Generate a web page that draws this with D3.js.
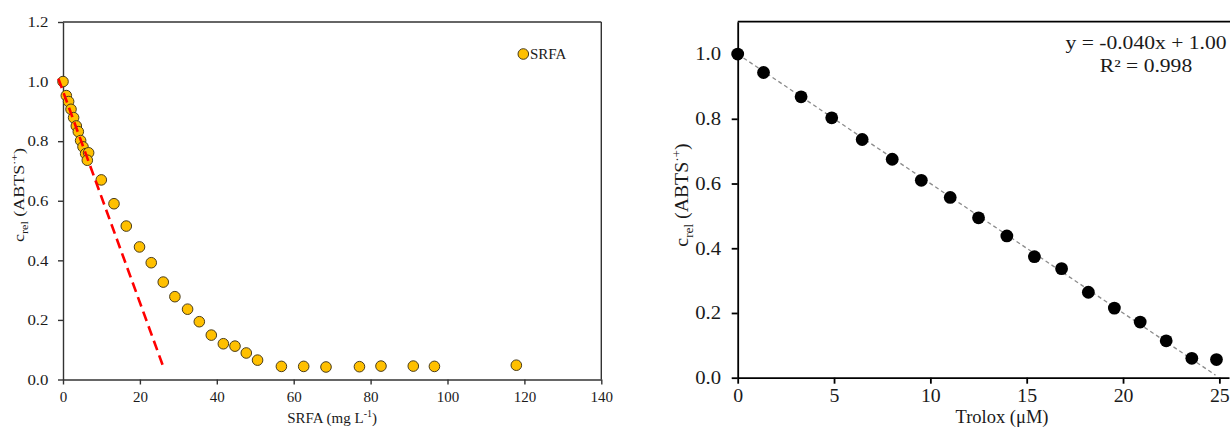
<!DOCTYPE html>
<html><head><meta charset="utf-8">
<script src="https://cdn.jsdelivr.net/npm/d3@7"></script>
<style>
html,body{margin:0;padding:0;background:#fff;}
svg{display:block;}
svg text{font-family:"Liberation Serif","Times New Roman",serif !important;}
</style></head>
<body>
<svg id="chart" width="1230" height="427"></svg>
<script>
// ---- Left panel data (SRFA) ----
const srfaX = [0, 0.86, 1.46, 2.08, 2.76, 3.46, 3.98, 4.58, 5.2, 5.88, 6.66, 6.32, 9.96, 13.26, 16.46, 19.9, 22.95, 26.07, 29.1, 32.4, 35.45, 38.57, 41.7, 44.73, 47.67, 50.6, 56.8, 62.6, 68.4, 77.1, 82.7, 91.1, 96.6, 117.9];
const srfaY = [1.0, 0.953, 0.933, 0.907, 0.879, 0.851, 0.832, 0.802, 0.781, 0.758, 0.761, 0.736, 0.670, 0.590, 0.515, 0.445, 0.392, 0.327, 0.278, 0.236, 0.194, 0.149, 0.120, 0.112, 0.089, 0.065, 0.044, 0.044, 0.042, 0.043, 0.045, 0.045, 0.044, 0.048];
const initSlopeX = [-1.2, 26.3];
const initSlopeY = [1.01, 0.035];
const leftXTicks = [0, 20, 40, 60, 80, 100, 120, 140];
const leftYTicks = [0, 0.2, 0.4, 0.6, 0.8, 1.0, 1.2];
const leftLegend = ["SRFA"];

// ---- Right panel data (Trolox) ----
const troloxX = [0, 1.34, 3.29, 4.88, 6.46, 8.02, 9.53, 11.03, 12.5, 13.97, 15.4, 16.81, 18.2, 19.55, 20.89, 22.24, 23.57, 24.85];
const troloxY = [1.0, 0.943, 0.868, 0.803, 0.736, 0.675, 0.610, 0.557, 0.494, 0.438, 0.374, 0.337, 0.264, 0.215, 0.172, 0.114, 0.060, 0.056];
const fitSlope = -0.040, fitIntercept = 1.00, fitXRange = [0, 24.8];
const fitLabels = ["y = -0.040x + 1.00", "R\u00B2 = 0.998"];
const rightXTicks = [0, 5, 10, 15, 20, 25];
const rightYTicks = [0, 0.2, 0.4, 0.6, 0.8, 1.0];

const svg = d3.select("#chart");

function styleAxis(g, color, width, fontSize) {
  g.attr("font-family", null).attr("font-size", null);
  g.select(".domain").attr("stroke", color).attr("stroke-width", width);
  g.selectAll(".tick line").attr("stroke", color).attr("stroke-width", width);
  g.selectAll(".tick text").attr("fill", "#1a1a1a").attr("font-size", fontSize);
}

// ================= LEFT PANEL =================
const xL = d3.scaleLinear().domain([0, 140]).range([63, 601.3]);
const yL = d3.scaleLinear().domain([0, 1.2]).range([379.5, 22]);

const gL = svg.append("g");
gL.append("line").attr("x1", xL(0)).attr("x2", xL(140)).attr("y1", yL(1.2)).attr("y2", yL(1.2))
  .attr("stroke", "#333").attr("stroke-width", 1.4);
gL.append("line").attr("x1", xL(140)).attr("x2", xL(140)).attr("y1", yL(0)).attr("y2", yL(1.2))
  .attr("stroke", "#333").attr("stroke-width", 1.4);

const axLX = gL.append("g").attr("transform", `translate(0,${yL(0)})`)
  .call(d3.axisBottom(xL).tickValues(leftXTicks).tickSize(5).tickSizeOuter(0).tickPadding(7).tickFormat(d3.format("d")));
styleAxis(axLX, "#333", 1.4, 15);
const axLY = gL.append("g").attr("transform", `translate(${xL(0)},0)`)
  .call(d3.axisLeft(yL).tickValues(leftYTicks).tickSize(5).tickSizeOuter(0).tickPadding(8).tickFormat(d3.format(".1f")));
styleAxis(axLY, "#333", 1.4, 15);
axLY.selectAll(".tick text").attr("transform", "scale(1.12,1)");

// points
gL.selectAll("circle.srfa").data(srfaX).enter().append("circle").attr("class", "srfa")
  .attr("cx", (d) => xL(d)).attr("cy", (d, i) => yL(srfaY[i])).attr("r", 5.3)
  .attr("fill", "#FFC000").attr("stroke", "#4a3d1c").attr("stroke-width", 1);

// red initial-slope dashed line (drawn over the points)
const lineL = d3.line().x((d, i) => xL(initSlopeX[i])).y((d, i) => yL(initSlopeY[i]));
gL.append("path").datum(initSlopeX).attr("d", lineL).attr("fill", "none")
  .attr("stroke", "#ff0000").attr("stroke-width", 2.6).attr("stroke-dasharray", "10,5.5");

// legend
gL.append("circle").attr("cx", 523.3).attr("cy", 54).attr("r", 5.3)
  .attr("fill", "#FFC000").attr("stroke", "#4a3d1c").attr("stroke-width", 1);
gL.append("text").attr("x", 530).attr("y", 59).attr("font-size", 15).attr("fill", "#1a1a1a").text(leftLegend[0]);

// axis titles
const xtL = gL.append("text").attr("x", (xL(0) + xL(140)) / 2).attr("y", 423).attr("text-anchor", "middle")
  .attr("font-size", 15).attr("fill", "#1a1a1a");
xtL.append("tspan").text("SRFA (mg L");
xtL.append("tspan").attr("font-size", 10).attr("dy", -6).text("-1");
xtL.append("tspan").attr("dy", 6).text(")");

const ytL = gL.append("text").attr("transform", "translate(24,195) rotate(-90) scale(1.2,1)")
  .attr("text-anchor", "middle").attr("font-size", 15).attr("fill", "#1a1a1a");
ytL.append("tspan").text("c");
ytL.append("tspan").attr("font-size", 10).attr("dy", 4).text("rel");
ytL.append("tspan").attr("dy", -4).text(" (ABTS");
ytL.append("tspan").attr("font-size", 10).attr("dy", -6).text("\u00B7+");
ytL.append("tspan").attr("dy", 6).text(")");

// ================= RIGHT PANEL =================
const xR = d3.scaleLinear().domain([0, 25.5]).range([737.7, 1229]);
const yR = d3.scaleLinear().domain([0, 1.1]).range([377.7, 21.7]);

const gR = svg.append("g");
gR.append("line").attr("x1", xR(0)).attr("x2", 1230).attr("y1", yR(1.1)).attr("y2", yR(1.1))
  .attr("stroke", "#000").attr("stroke-width", 1.8);

const axRX = gR.append("g").attr("transform", `translate(0,${yR(0)})`)
  .call(d3.axisBottom(xR).tickValues(rightXTicks).tickSize(6).tickSizeOuter(0).tickPadding(6).tickFormat(d3.format("d")));
styleAxis(axRX, "#000", 1.8, 18);
axRX.selectAll(".tick text").attr("transform", "scale(1.1,1)");
const axRY = gR.append("g").attr("transform", `translate(${xR(0)},0)`)
  .call(d3.axisLeft(yR).tickValues(rightYTicks).tickSize(6).tickSizeOuter(0).tickPadding(10).tickFormat(d3.format(".1f")));
styleAxis(axRY, "#000", 1.8, 18);
axRY.selectAll(".tick text").attr("transform", "scale(1.15,1)").attr("x", -14.5);

// fit line
const fitLine = d3.line().x((d) => xR(d)).y((d) => yR(fitSlope * d + fitIntercept));
gR.append("path").datum(fitXRange).attr("d", fitLine).attr("fill", "none")
  .attr("stroke", "#8c8c8c").attr("stroke-width", 1.3).attr("stroke-dasharray", "4,3");

// points
gR.selectAll("circle.tro").data(troloxX).enter().append("circle").attr("class", "tro")
  .attr("cx", (d) => xR(d)).attr("cy", (d, i) => yR(troloxY[i])).attr("r", 6.4)
  .attr("fill", "#000");

// equation
gR.append("text").attr("transform", "translate(1146,49) scale(1.2,1)").attr("text-anchor", "middle")
  .attr("font-size", 18).attr("fill", "#1a1a1a").text(fitLabels[0]);
gR.append("text").attr("transform", "translate(1146,72) scale(1.2,1)").attr("text-anchor", "middle")
  .attr("font-size", 18).attr("fill", "#1a1a1a").text(fitLabels[1]);

// axis titles
gR.append("text").attr("x", 1002).attr("y", 422.6).attr("text-anchor", "middle")
  .attr("font-size", 18.5).attr("fill", "#1a1a1a").text("Trolox (\u03BCM)");

const ytR = gR.append("text").attr("transform", "translate(688,195) rotate(-90) scale(1.1,1)")
  .attr("text-anchor", "middle").attr("font-size", 18).attr("fill", "#1a1a1a");
ytR.append("tspan").text("c");
ytR.append("tspan").attr("font-size", 12).attr("dy", 5).text("rel");
ytR.append("tspan").attr("dy", -5).text(" (ABTS");
ytR.append("tspan").attr("font-size", 12).attr("dy", -7).text("\u00B7+");
ytR.append("tspan").attr("dy", 7).text(")");
</script>
</body></html>
